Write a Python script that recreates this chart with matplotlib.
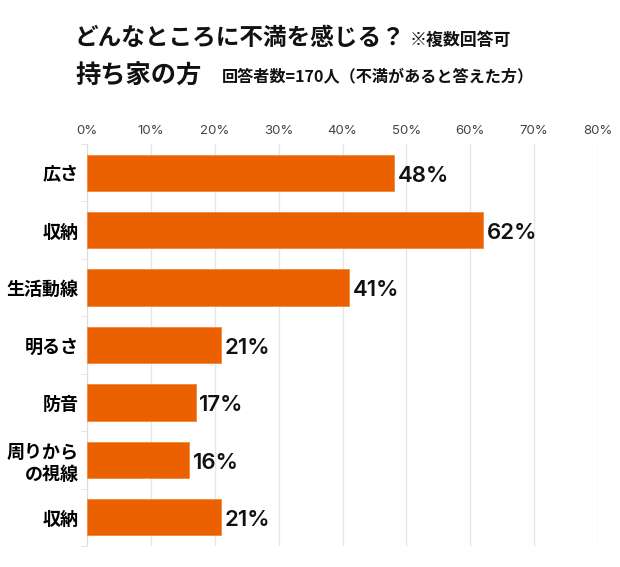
import matplotlib
matplotlib.use("Agg")
import matplotlib.pyplot as plt
import numpy as np

plt.rcParams['font.family'] = ['Noto Sans CJK JP', 'DejaVu Sans']

categories = ["広さ", "収納", "生活動線", "明るさ", "防音", "周りから\nの視線", "収納"]
values = [48, 62, 41, 21, 17, 16, 21]
xticks = [0, 10, 20, 30, 40, 50, 60, 70, 80]
xticklabels = [f"{t}%" for t in xticks]

fig = plt.figure(figsize=(6.2, 5.67), dpi=100)
ax = fig.add_axes([87/620, 1-546/567, (598-87)/620, (546-144)/567])

y = np.arange(len(categories))
ax.barh(y, values, height=0.63, color="#EB6100", edgecolor="#F08A3C", linewidth=0.6, zorder=3)
for yi, v in zip(y, values):
    ax.text(v + 0.6, yi + 0.05, f"{v}%", va="center", ha="left", fontsize=16,
            fontweight="semibold", color="#111111", zorder=4,
            family=["Inter", "Noto Sans CJK JP"])

ax.set_xlim(0, 80)
ax.set_ylim(len(categories) - 0.5, -0.5)
ax.set_xticks(xticks)
ax.set_xticklabels(xticklabels, family=["Inter", "Noto Sans CJK JP"], fontweight="normal")
ax.xaxis.tick_top()
ax.tick_params(axis="x", length=0, pad=5, labelsize=9.5, labelcolor="#444444")
ax.set_yticks(y)
ax.set_yticklabels(categories, fontsize=13, fontweight="bold", linespacing=1.2)
ax.set_yticks(np.arange(len(categories) + 1) - 0.5, minor=True)
ax.tick_params(axis="y", which="major", length=0, pad=6)
ax.tick_params(axis="y", which="minor", length=4, color="#dddddd")
ax.grid(axis="x", color="#e6e6e6", linewidth=1, zorder=0)
for s in ["top", "right", "bottom"]:
    ax.spines[s].set_visible(False)
ax.spines["left"].set_color("#dddddd")

fig.text(75/620, 1-38/567, "どんなところに不満を感じる？", fontsize=17, fontweight="bold",
         va="center", ha="left", color="#111111")
fig.text(410/620, 1-40/567, "※複数回答可", fontsize=12.2, fontweight="bold",
         va="center", ha="left", color="#111111")
fig.text(75/620, 1-76/567, "持ち家の方", fontsize=18.2, fontweight="bold",
         va="center", ha="left", color="#111111")
fig.text(222/620, 1-76/567, "回答者数=170人（不満があると答えた方）", fontsize=11.6, fontweight="bold",
         va="center", ha="left", color="#111111")

fig.savefig("out.png", dpi=100)
